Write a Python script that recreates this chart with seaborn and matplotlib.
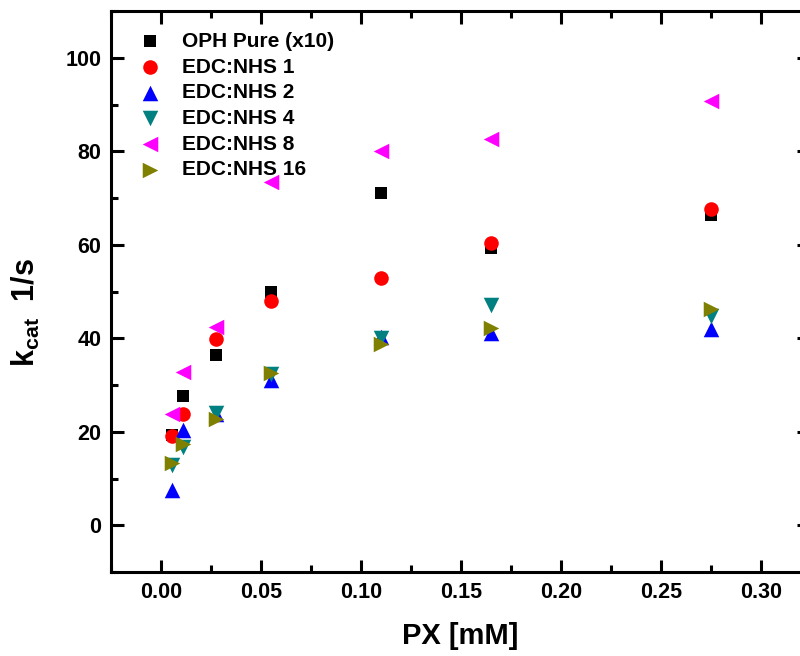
import matplotlib
matplotlib.use("Agg")
import matplotlib.pyplot as plt
import seaborn as sns
import pandas as pd
from matplotlib.ticker import MultipleLocator

# Data
px = [0.0055, 0.011, 0.0275, 0.055, 0.11, 0.165, 0.275]
oph_pure = [19.3, 27.6, 36.4, 50.0, 71.1, 59.2, 66.3]
edc_nhs_1 = [19.0, 23.7, 39.9, 48.0, 52.9, 60.3, 67.6]
edc_nhs_2 = [7.5, 20.3, 23.7, 31.0, 40.3, 41.2, 41.9]
edc_nhs_4 = [12.9, 16.8, 24.0, 32.3, 40.1, 47.1, 44.8]
edc_nhs_8 = [23.7, 32.8, 42.5, 73.5, 80.0, 82.6, 90.8]
edc_nhs_16 = [13.4, 17.4, 22.7, 32.5, 38.7, 42.2, 46.2]

series_names = ["OPH Pure (x10)", "EDC:NHS 1", "EDC:NHS 2", "EDC:NHS 4", "EDC:NHS 8", "EDC:NHS 16"]
series_vals = [oph_pure, edc_nhs_1, edc_nhs_2, edc_nhs_4, edc_nhs_8, edc_nhs_16]
colors = ["#000000", "#FF0000", "#0000FF", "#008080", "#FF00FF", "#808000"]
markers = ["s", "o", "^", "v", "<", ">"]
sizes = [85, 110, 125, 125, 125, 125]

sns.set_style("ticks")
plt.rcParams["font.family"] = ["Liberation Sans", "DejaVu Sans"]
plt.rcParams["font.weight"] = "bold"
plt.rcParams["text.color"] = "black"
plt.rcParams["axes.labelcolor"] = "black"
plt.rcParams["xtick.color"] = "black"
plt.rcParams["ytick.color"] = "black"
plt.rcParams["mathtext.fontset"] = "custom"
plt.rcParams["mathtext.rm"] = "Liberation Sans:bold"
plt.rcParams["mathtext.it"] = "Liberation Sans:bold"
plt.rcParams["mathtext.bf"] = "Liberation Sans:bold"

fig = plt.figure(figsize=(8.0, 6.56), dpi=100)
ax = fig.add_axes([111/800, 1 - 572/656, (809 - 111)/800, (572 - 11)/656])

for name, vals, c, m, s in zip(series_names, series_vals, colors, markers, sizes):
    df = pd.DataFrame({"x": px, "y": vals})
    sns.scatterplot(data=df, x="x", y="y", ax=ax, color=c, marker=m, s=s,
                    linewidth=0, label=name, zorder=3)

ax.set_xlim(-0.025, 0.324)
ax.set_ylim(-10, 110)
ax.xaxis.set_major_locator(MultipleLocator(0.05))
ax.xaxis.set_minor_locator(MultipleLocator(0.025))
ax.yaxis.set_major_locator(MultipleLocator(20))
ax.yaxis.set_minor_locator(MultipleLocator(10))
ax.xaxis.set_major_formatter(matplotlib.ticker.FormatStrFormatter("%.2f"))

for sp in ax.spines.values():
    sp.set_visible(True)
    sp.set_linewidth(2.2)
    sp.set_color("black")

ax.tick_params(which="both", direction="in", top=True, right=True, width=2.2,
               colors="black", labelcolor="black")
ax.tick_params(which="major", length=9, pad=7, labelsize=15.5)
ax.tick_params(which="minor", length=5)
for lbl in ax.get_xticklabels() + ax.get_yticklabels():
    lbl.set_fontweight("bold")

ax.set_xlabel("PX [mM]", fontsize=21, fontweight="bold", labelpad=14, color="black")
ax.set_ylabel(r"$\mathrm{k_{cat}}$  1/s", fontsize=22, fontweight="bold", color="black")
ax.yaxis.set_label_coords(-0.099, 0.463)

leg = ax.legend(loc="upper left", bbox_to_anchor=(0.02, 0.985), frameon=False,
                prop={"size": 15, "weight": "bold"}, handletextpad=0.95,
                labelspacing=0.32, borderaxespad=0.2, handlelength=1.2)
for t in leg.get_texts():
    t.set_color("black")

fig.savefig("out.png", dpi=100)
